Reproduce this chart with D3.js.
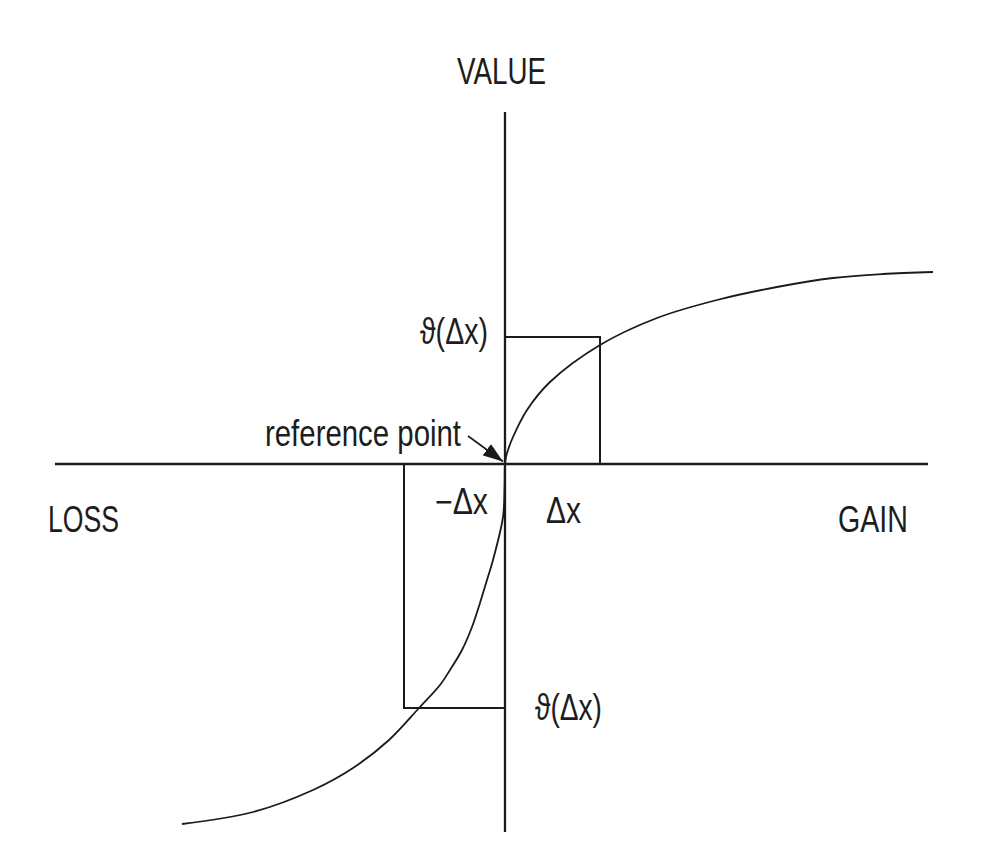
<!DOCTYPE html>
<html>
<head>
<meta charset="utf-8">
<script src="https://cdn.jsdelivr.net/npm/d3@7"></script>
<style>
  html, body { margin: 0; padding: 0; background: #fff; }
  svg { display: block; }
  text { font-family: "Liberation Sans Narrow", "Liberation Sans", Arial, sans-serif; fill: #1d1d1d; }
</style>
</head>
<body>
<svg id="chart" width="1008" height="858"></svg>
<script>
// value function (gain / loss in units of pixels/100 of the original figure)
const curveX = [-3.23, -2.52, -1.92, -1.52, -1.16, -0.86, -0.65, -0.55, -0.43, -0.33, -0.25, -0.18,
  -0.12, -0.02, -0.005,
  0, 0.01, 0.03, 0.08, 0.22, 0.45, 0.95, 1.52, 2.12, 2.72, 3.28, 3.78, 4.28];
const curveY = [-3.60, -3.48, -3.26, -3.04, -2.76, -2.44, -2.21, -2.06, -1.86, -1.63, -1.39, -1.16,
  -0.96, -0.53, -0.25,
  0, 0.07, 0.14, 0.27, 0.54, 0.82, 1.19, 1.46, 1.64, 1.77, 1.86, 1.90, 1.92];

// the two change boxes: +dx -> value, -dx -> value
const gainBox = { dx: 0.95, v: 1.27 };
const lossBox = { dx: -1.01, v: -2.44 };

const xAxisExtent = [-4.50, 4.23];
const yAxisExtent = [3.52, -3.68];

const labels = {
  value: "VALUE", loss: "LOSS", gain: "GAIN",
  ref: "reference point", theta: "\u03D1(\u0394x)", minusDx: "\u2212\u0394x", dx: "\u0394x"
};

const width = 1008, height = 858;
const svg = d3.select("#chart");

const x = d3.scaleLinear().domain([-5.05, 5.03]).range([0, width]);
const y = d3.scaleLinear().domain([4.64, -3.94]).range([0, height]);

const ink = "#1b1b1b";

svg.append("defs").append("marker")
  .attr("id", "arrow")
  .attr("viewBox", "0 0 10 10")
  .attr("refX", 10).attr("refY", 5)
  .attr("markerWidth", 20).attr("markerHeight", 14)
  .attr("markerUnits", "userSpaceOnUse")
  .attr("orient", "auto")
  .attr("preserveAspectRatio", "none")
  .append("path")
  .attr("d", "M0,0 L10,5 L0,10 Z")
  .attr("fill", ink);

// axes
svg.append("line")
  .attr("x1", x(xAxisExtent[0])).attr("x2", x(xAxisExtent[1]))
  .attr("y1", y(0)).attr("y2", y(0))
  .attr("stroke", ink).attr("stroke-width", 2.3);
svg.append("line")
  .attr("x1", x(0)).attr("x2", x(0))
  .attr("y1", y(yAxisExtent[0])).attr("y2", y(yAxisExtent[1]))
  .attr("stroke", ink).attr("stroke-width", 2.3);

// boxes
svg.append("path")
  .attr("d", `M${x(0)},${y(gainBox.v)} H${x(gainBox.dx)} V${y(0)}`)
  .attr("fill", "none").attr("stroke", ink).attr("stroke-width", 2);
svg.append("path")
  .attr("d", `M${x(0)},${y(lossBox.v)} H${x(lossBox.dx)} V${y(0)}`)
  .attr("fill", "none").attr("stroke", ink).attr("stroke-width", 2);

// curve
const line = d3.line()
  .x(d => x(d[0]))
  .y(d => y(d[1]))
  .curve(d3.curveCatmullRom.alpha(0.5));
svg.append("path")
  .attr("d", line(d3.zip(curveX, curveY)))
  .attr("fill", "none").attr("stroke", ink).attr("stroke-width", 1.8);

// arrow to the reference point
svg.append("line")
  .attr("x1", x(-0.37)).attr("y1", y(0.28))
  .attr("x2", x(-0.02)).attr("y2", y(0.025))
  .attr("stroke", ink).attr("stroke-width", 1.6)
  .attr("marker-end", "url(#arrow)");

const addText = (t, px, py, w, size) => svg.append("text")
  .attr("x", px).attr("y", py)
  .attr("font-size", size)
  .attr("textLength", w)
  .attr("lengthAdjust", "spacingAndGlyphs")
  .text(t);

addText(labels.value, x(0) - 48, y(3.80), 89, 37);
addText(labels.loss, x(-4.57), y(-0.68), 71, 36);
addText(labels.gain, x(3.33), y(-0.68), 70, 36);
addText(labels.ref, x(-2.40), y(0.18), 196, 37);
addText(labels.theta, x(-0.85), y(gainBox.v) + 7, 68, 36);
addText(labels.theta, x(0.30), y(lossBox.v) + 12, 67, 36);
addText(labels.minusDx, x(-0.70), y(-0.50), 53, 36);
addText(labels.dx, x(0.41), y(-0.585), 35, 36);
</script>
</body>
</html>
